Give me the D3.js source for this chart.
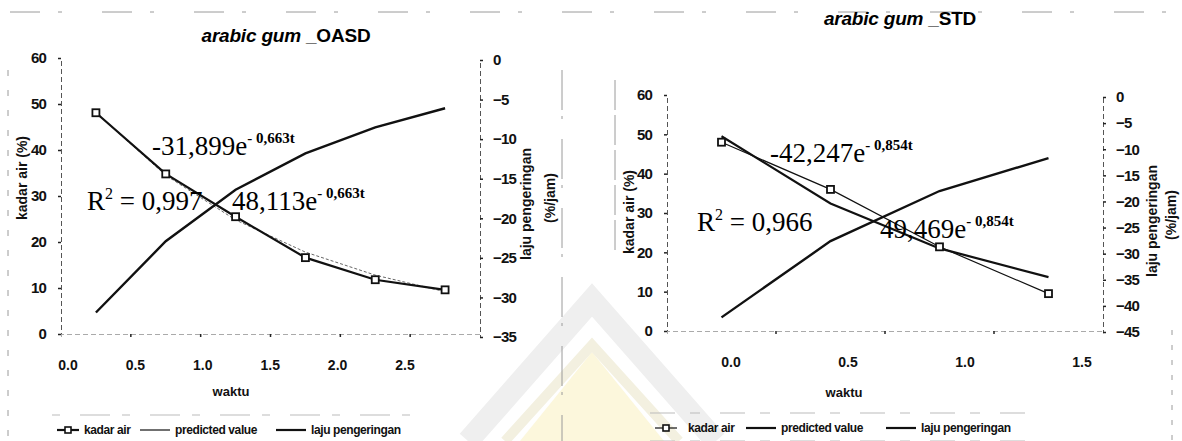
<!DOCTYPE html>
<html><head><meta charset="utf-8">
<script src="https://cdn.jsdelivr.net/npm/d3@7"></script>
<style>body{margin:0;background:#fff} svg{display:block}</style>
</head><body>
<svg id="c" width="1182" height="441"></svg>
<script>
// ---- data ----
const oasdTime = ["0.0","0.5","1.0","1.5","2.0","2.5"];
const oasdKadar = [48.1, 34.8, 25.5, 16.6, 11.8, 9.6];
const oasdPred  = [48.1, 34.5, 24.8, 17.8, 12.8, 9.2];
const oasdLaju  = [-31.9, -22.9, -16.4, -11.8, -8.5, -6.1];
const stdTime = ["0.0","0.5","1.0","1.5"];
const stdKadar = [48.0, 36.0, 21.4, 9.5];
const stdPred  = [49.5, 32.4, 21.0, 13.7];
const stdLaju  = [-42.2, -27.6, -18.0, -11.7];
const kadarTicks = [0,10,20,30,40,50,60];
const oasdLajuTicks = [0,-5,-10,-15,-20,-25,-30,-35];
const stdLajuTicks = [0,-5,-10,-15,-20,-25,-30,-35,-40,-45];
const legendLabels = ["kadar air","predicted value","laju pengeringan"];

const svg = d3.select("#c");
const SANS = "'Liberation Sans', Arial, sans-serif";
const SERIF = "'Liberation Serif', 'Times New Roman', serif";

// faint watermark + scan artifacts
const wm = svg.append("g");
wm.append("polygon").attr("points","520,441 592,352 664,441").attr("fill","#fcf7dc");
wm.append("polyline").attr("points","468,441 592,300 716,441").attr("fill","none").attr("stroke","#efefef").attr("stroke-width",22);
wm.append("polyline").attr("points","505,441 592,345 679,441").attr("fill","none").attr("stroke","#f3f0e0").attr("stroke-width",10);
const art = svg.append("g").attr("stroke","#9a9a9a").attr("stroke-width",1).attr("fill","none");
art.append("line").attr("x1",10).attr("x2",1175).attr("y1",12).attr("y2",12).attr("stroke-dasharray","30,18,4,40");
art.append("line").attr("x1",8).attr("x2",8).attr("y1",70).attr("y2",441).attr("stroke-dasharray","6,14");
art.append("line").attr("x1",562).attr("x2",562).attr("y1",70).attr("y2",441).attr("stroke-dasharray","40,6,3,20");
art.append("line").attr("x1",615).attr("x2",615).attr("y1",80).attr("y2",250).attr("stroke-dasharray","30,5");
art.append("line").attr("x1",1172).attr("x2",1172).attr("y1",330).attr("y2",441).attr("stroke-dasharray","5,10");
art.append("line").attr("x1",52).attr("x2",410).attr("y1",415).attr("y2",415).attr("stroke-dasharray","8,20,30,12").attr("stroke","#bbb");
art.append("line").attr("x1",650).attr("x2",1035).attr("y1",413).attr("y2",413).attr("stroke-dasharray","25,15,10,20").attr("stroke","#bbb");
art.append("line").attr("x1",650).attr("x2",1035).attr("y1",441).attr("y2",441).attr("stroke-dasharray","25,15,10,20").attr("stroke","#bbb");

function drawPanel(cfg){
  const g = svg.append("g");
  const xb = d3.scaleBand().domain(cfg.time).range([cfg.x0, cfg.x1]).padding(0);
  const cx = d => xb(d) + xb.bandwidth()/2;
  const xl = d3.scalePoint().domain(cfg.time).range(cfg.labelRange);
  const yL = d3.scaleLinear().domain([0,60]).range(cfg.yLRange);
  const yR = d3.scaleLinear().domain([d3.min(cfg.lajuTicks),0]).range(cfg.yRRange);

  // axes
  const axL = g.append("g").attr("transform",`translate(${cfg.x0},0)`)
    .call(d3.axisLeft(yL).tickValues(kadarTicks).tickSize(3).tickPadding(12));
  const axR = g.append("g").attr("transform",`translate(${cfg.x1},0)`)
    .call(d3.axisRight(yR).tickValues(cfg.lajuTicks).tickSize(3).tickPadding(10));
  const axB = g.append("g").attr("transform",`translate(0,${yL(0)})`)
    .call(d3.axisBottom(xb).tickValues(cfg.time.slice(1)).tickSize(3).tickFormat(""));
  axB.selectAll(".tick").attr("transform", d => `translate(${xb(d)},0)`);
  [axL,axR,axB].forEach(a=>{
    a.select(".domain").attr("stroke","#555").attr("stroke-width",1).attr("stroke-dasharray","5,3");
    a.selectAll(".tick line").attr("stroke","#222").attr("stroke-width",1.5);
  });
  axB.select(".domain").attr("stroke","#aaa");
  [axL,axR].forEach(a=>a.selectAll(".tick text")
    .attr("font-family",SANS).attr("font-weight","bold").attr("font-size",15).attr("fill","#111").attr("letter-spacing",-0.8));

  // x labels (scan-offset category labels)
  g.append("g").selectAll("text").data(cfg.time).join("text")
    .attr("x", d=>xl(d)).attr("y", cfg.labelY).attr("text-anchor","middle")
    .attr("font-family",SANS).attr("font-weight","bold").attr("font-size",14).attr("fill","#111")
    .text(d=>d);

  // lines
  const line = (vals, y) => d3.line().x((d,i)=>cx(cfg.time[i])).y(d=>y(d))(vals);
  g.append("path").attr("d", line(cfg.pred, yL)).attr("fill","none")
    .attr("stroke", cfg.predColor).attr("stroke-width", cfg.predW).attr("stroke-dasharray", cfg.predDash);
  g.append("path").attr("d", line(cfg.kadar, yL)).attr("fill","none")
    .attr("stroke","#111").attr("stroke-width", cfg.kadarW);
  g.append("path").attr("d", line(cfg.laju, yR)).attr("fill","none")
    .attr("stroke","#111").attr("stroke-width", 2.4);
  g.append("g").selectAll("rect").data(cfg.kadar).join("rect")
    .attr("x",(d,i)=>cx(cfg.time[i])-3.5).attr("y",d=>yL(d)-3.5)
    .attr("width",7).attr("height",7).attr("fill","#fff").attr("stroke","#111").attr("stroke-width",1.8);

  // titles
  const t = g.append("text").attr("x",cfg.titleX).attr("y",cfg.titleY).attr("text-anchor","middle")
    .attr("font-family",SANS).attr("font-weight","bold").attr("font-size",19).attr("fill","#000").attr("letter-spacing",-0.2);
  t.append("tspan").attr("font-style","italic").text("arabic gum ");
  t.append("tspan").text(cfg.titleSuffix);

  // axis titles
  g.append("text").attr("transform",`translate(${cfg.kadarLabelX},${cfg.kadarLabelY}) rotate(-90)`)
    .attr("text-anchor","middle").attr("font-family",SANS).attr("font-weight","bold").attr("font-size",14)
    .attr("fill","#111").text("kadar air (%)");
  g.append("text").attr("transform",`translate(${cfg.lajuLabelX},${cfg.lajuLabelY}) rotate(-90)`)
    .attr("text-anchor","middle").attr("font-family",SANS).attr("font-weight","bold").attr("font-size",14)
    .attr("fill","#111").text("laju pengeringan");
  g.append("text").attr("transform",`translate(${cfg.lajuLabelX+cfg.lajuGap},${cfg.lajuLabelY-6}) rotate(-90)`)
    .attr("text-anchor","middle").attr("font-family",SANS).attr("font-weight","bold").attr("font-size",14)
    .attr("fill","#111").text("(%/jam)");
  g.append("text").attr("x",cfg.waktuX).attr("y",cfg.waktuY).attr("text-anchor","middle")
    .attr("font-family",SANS).attr("font-weight","bold").attr("font-size",13).attr("fill","#111").text("waktu");

  // equations
  function eq(x,y,main,sup){
    const e = g.append("text").attr("x",x).attr("y",y).attr("font-family",SERIF).attr("font-size",27).attr("fill","#000");
    e.append("tspan").text(main);
    e.append("tspan").attr("dy",-12).attr("font-size",15).attr("font-weight","bold").text(sup);
  }
  eq(cfg.eq1[0],cfg.eq1[1],cfg.eq1[2],cfg.eq1[3]);
  eq(cfg.eq2[0],cfg.eq2[1],cfg.eq2[2],cfg.eq2[3]);
  const r = g.append("text").attr("x",cfg.r2[0]).attr("y",cfg.r2[1]).attr("font-family",SERIF)
    .attr("font-size",27).attr("fill","#000");
  r.append("tspan").text("R");
  r.append("tspan").attr("dy",-11).attr("font-size",16).text("2");
  r.append("tspan").attr("dy",11).text(" = " + cfg.r2[2]);

  // legend
  const lg = g.append("g").attr("transform",`translate(0,${cfg.legY})`);
  const lx = cfg.legX;
  lg.append("line").attr("x1",lx[0]).attr("x2",lx[0]+22).attr("stroke","#111").attr("stroke-width",cfg.kadarW);
  lg.append("rect").attr("x",lx[0]+8).attr("y",-3).attr("width",6).attr("height",6).attr("fill","#fff").attr("stroke","#111").attr("stroke-width",1.6);
  lg.append("line").attr("x1",lx[2]).attr("x2",lx[2]+30).attr("stroke","#111").attr("stroke-width",cfg.predLegW);
  lg.append("line").attr("x1",lx[4]).attr("x2",lx[4]+30).attr("stroke","#111").attr("stroke-width",2.2);
  [lx[1],lx[3],lx[5]].forEach((x,i)=>{
    lg.append("text").attr("x",x).attr("y",4).attr("font-family",SANS).attr("font-weight","bold")
      .attr("font-size",12).attr("letter-spacing",-0.4).attr("fill","#111").text(legendLabels[i]);
  });
}

drawPanel({
  time: oasdTime, kadar: oasdKadar, pred: oasdPred, laju: oasdLaju, lajuTicks: oasdLajuTicks,
  x0: 61, x1: 480, yLRange: [334, 58], yRRange: [337, 60],
  labelRange: [68, 405], labelY: 370,
  kadarW: 2.2, predW: 1, predColor: "#666", predDash: "3,2", predLegW: 1.2,
  titleX: 286, titleY: 42, titleSuffix: "_OASD",
  kadarLabelX: 27, kadarLabelY: 178, lajuLabelX: 531, lajuLabelY: 204, lajuGap: 24,
  waktuX: 231, waktuY: 396,
  eq1: [152, 155, "-31,899e", "- 0,663t"], eq2: [232, 210, "48,113e", "- 0,663t"], r2: [87, 210, "0,997"],
  legY: 430, legX: [57, 84, 140, 175, 276, 311]
});
drawPanel({
  time: stdTime, kadar: stdKadar, pred: stdPred, laju: stdLaju, lajuTicks: stdLajuTicks,
  x0: 667, x1: 1103, yLRange: [331, 95], yRRange: [332, 97],
  labelRange: [731, 1082], labelY: 367,
  kadarW: 1.2, predW: 2.2, predColor: "#111", predDash: null, predLegW: 2.2,
  titleX: 900, titleY: 25, titleSuffix: "_STD",
  kadarLabelX: 634, kadarLabelY: 212, lajuLabelX: 1157, lajuLabelY: 221, lajuGap: 19,
  waktuX: 844, waktuY: 397,
  eq1: [770, 162, "-42,247e", "- 0,854t"], eq2: [880, 238, "49,469e", "- 0,854t"], r2: [697, 231, "0,966"],
  legY: 428, legX: [655, 688, 746, 781, 886, 921]
});
</script>
</body></html>
